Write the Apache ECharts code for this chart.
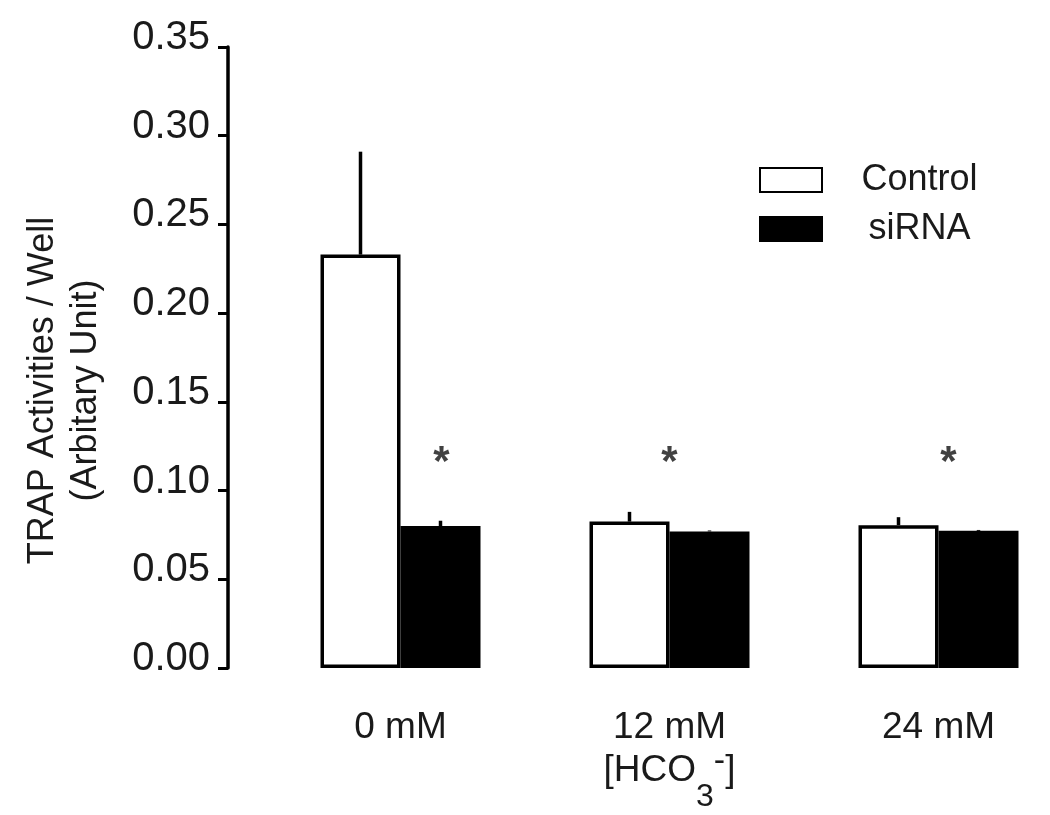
<!DOCTYPE html>
<html>
<head>
<meta charset="utf-8">
<script src="https://cdn.jsdelivr.net/npm/echarts@6/dist/echarts.min.js"></script>
<style>
  html, body { margin: 0; padding: 0; background: #fff; }
  #main { width: 1050px; height: 815px; }
</style>
</head>
<body>
<div id="main"></div>
<script>
  // values
  var categories = ['0 mM', '12 mM', '24 mM'];
  var controlMean = [0.233, 0.0825, 0.0805];
  var controlErr = [0.058, 0.0055, 0.0045];
  var sirnaMean = [0.080, 0.077, 0.0773];
  var sirnaErr = [0.003, 0.0005, 0.0005];
  var starLevel = [0.1155, 0.1155, 0.1155];
  var starShift = [41, 0, 10];

  var font = '"Liberation Sans", Arial, sans-serif';
  var barW = 80;

  function errRender(shift) {
    return function (params, api) {
      var i = api.value(0);
      var top = api.coord([i, api.value(1) + api.value(2)]);
      var base = api.coord([i, api.value(1)]);
      return {
        type: 'line',
        shape: { x1: top[0] + shift, y1: top[1], x2: base[0] + shift, y2: base[1] },
        style: { stroke: '#000', lineWidth: 3.5 }
      };
    };
  }

  var chart = echarts.init(document.getElementById('main'));
  var option = {
    backgroundColor: '#fff',
    animation: false,
    grid: { left: 266, right: -23, top: 47, bottom: 147, outerBoundsMode: 'none', containLabel: false },
    legend: {
      data: ['Control', 'siRNA'],
      orient: 'vertical',
      left: 759,
      top: 162,
      padding: 0,
      itemWidth: 62,
      itemHeight: 24,
      itemGap: 13,
      icon: 'rect',
      formatter: '{a|{name}}',
      textStyle: {
        fontFamily: font, fontSize: 36, color: '#1a1a1a', lineHeight: 36,
        rich: { a: { width: 185, align: 'center', fontFamily: font, fontSize: 36, color: '#1a1a1a' } }
      }
    },
    xAxis: {
      type: 'category',
      data: categories,
      axisLine: { show: false },
      axisTick: { show: false },
      axisLabel: { fontFamily: font, fontSize: 37, color: '#1a1a1a', margin: 40, lineHeight: 40 },
      name: '[HCO{sub|3}{sup|-}]',
      nameLocation: 'middle',
      nameMoveOverlap: false,
      nameGap: 61,
      nameTextStyle: {
        fontFamily: font, fontSize: 37, color: '#1a1a1a', lineHeight: 84,
        rich: {
          sub: { fontFamily: font, fontSize: 32, color: '#1a1a1a', verticalAlign: 'bottom' },
          sup: { fontFamily: font, fontSize: 34, color: '#1a1a1a', verticalAlign: 'top', padding: [16, 0, 0, 0] }
        }
      }
    },
    yAxis: {
      type: 'value',
      min: 0,
      max: 0.35,
      interval: 0.05,
      offset: 38,
      splitLine: { show: false },
      axisLine: { show: true, lineStyle: { color: '#000', width: 3.5 } },
      axisTick: { show: true, length: 10, lineStyle: { color: '#000', width: 3 } },
      axisLabel: {
        fontFamily: font, fontSize: 40, color: '#1a1a1a', margin: 18,
        verticalAlign: 'bottom', lineHeight: 18,
        formatter: function (v) { return v.toFixed(2); }
      },
      name: 'TRAP Activities / Well\n(Arbitary Unit)',
      nameLocation: 'middle',
      nameGap: 120,
      nameTextStyle: { fontFamily: font, fontSize: 36, color: '#1a1a1a', lineHeight: 43, padding: [0, 66, 0, 0] }
    },
    series: [
      {
        name: 'Control',
        type: 'bar',
        data: controlMean,
        barWidth: barW,
        barGap: '0%',
        itemStyle: { color: '#fff', borderColor: '#000', borderWidth: 3.5 }
      },
      {
        name: 'siRNA',
        type: 'bar',
        data: sirnaMean,
        barWidth: barW,
        barGap: '0%',
        itemStyle: { color: '#000', borderColor: '#000', borderWidth: 3.5 }
      },
      {
        type: 'custom',
        renderItem: errRender(-barW / 2),
        data: categories.map(function (c, i) { return [i, controlMean[i], controlErr[i]]; }),
        z: 3
      },
      {
        type: 'custom',
        renderItem: errRender(barW / 2),
        data: categories.map(function (c, i) { return [i, sirnaMean[i], sirnaErr[i]]; }),
        z: 3
      },
      {
        type: 'scatter',
        symbolSize: 1,
        itemStyle: { color: 'rgba(0,0,0,0)' },
        data: categories.map(function (c, i) {
          return { value: [i, starLevel[i]], label: { offset: [starShift[i], 0] } };
        }),
        label: {
          show: true, position: 'inside', formatter: '*',
          fontFamily: font, fontSize: 42, fontWeight: 'bold', color: '#111'
        },
        z: 4
      }
    ]
  };
  chart.setOption(option);
</script>
</body>
</html>
